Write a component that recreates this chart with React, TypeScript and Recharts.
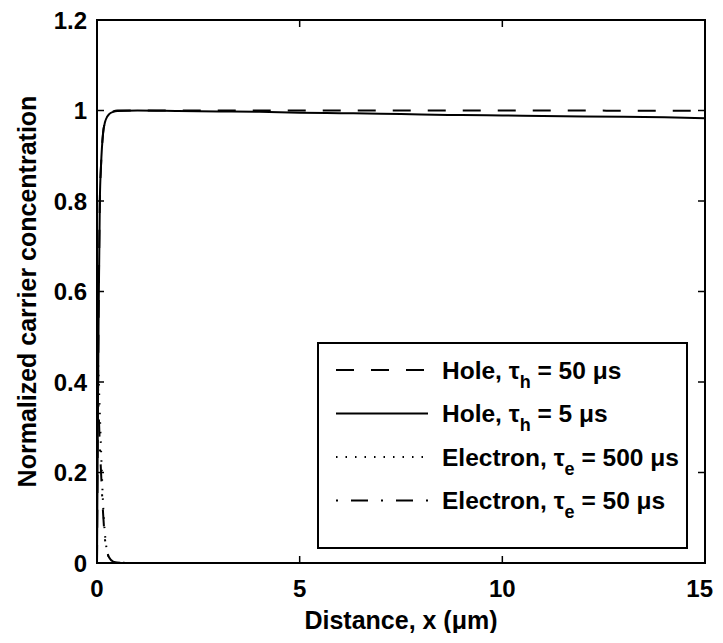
import { LineChart, Line, XAxis, YAxis, Legend, ReferenceArea, Label } from "recharts";

const distance = [0, 0.02, 0.04, 0.07, 0.1, 0.15, 0.2, 0.25, 0.3, 0.4, 0.5, 1, 2, 3, 4, 5, 6, 7, 8, 9, 10, 11, 12, 13, 14, 15];
const hole50 = [0, 0.3, 0.55, 0.8, 0.88, 0.95, 0.975, 0.987, 0.993, 0.998, 1, 1, 1, 1, 1, 1, 1, 1, 1, 1, 1, 1, 1, 0.9995, 0.9995, 0.9995];
const hole5 = [0, 0.3, 0.55, 0.8, 0.88, 0.95, 0.975, 0.986, 0.992, 0.997, 0.999, 1, 0.999, 0.998, 0.997, 0.995, 0.994, 0.993, 0.991, 0.99, 0.989, 0.988, 0.987, 0.986, 0.985, 0.983];
const electron500 = [0.5, 0.46, 0.41, 0.33, 0.25, 0.13, 0.06, 0.025, 0.01, 0.003, 0.001, 0, 0, 0, 0, 0, 0, 0, 0, 0, 0, 0, 0, 0, 0, 0];
const electron50 = [0.45, 0.4, 0.34, 0.26, 0.2, 0.11, 0.05, 0.025, 0.012, 0.003, 0.001, 0, 0, 0, 0, 0, 0, 0, 0, 0, 0, 0, 0, 0, 0, 0];

const xTicks = [0, 5, 10, 15];
const yTicks = [0, 0.2, 0.4, 0.6, 0.8, 1, 1.2];

const series = [
  { key: "hole50", carrier: "Hole", sub: "h", tau: "50", dash: "18 17" },
  { key: "hole5", carrier: "Hole", sub: "h", tau: "5", dash: undefined },
  { key: "electron500", carrier: "Electron", sub: "e", tau: "500", dash: "1.5 8" },
  { key: "electron50", carrier: "Electron", sub: "e", tau: "50", dash: "2 13 17 13" },
];

const data = distance.map((x, i) => ({
  x,
  hole50: hole50[i],
  hole5: hole5[i],
  electron500: electron500[i],
  electron50: electron50[i],
}));

const FONT = "'Liberation Sans', Arial, Helvetica, sans-serif";
const W = 707;
const H = 625;
const PLOT_LEFT = 89;
const PLOT_RIGHT = 697;
const PLOT_TOP = 12;
const PLOT_BOTTOM = 555;

const XTick = (props: any) => {
  const { x, payload } = props;
  // the last label would spill past the page edge, so pin its right side instead
  const last = payload.value === xTicks[xTicks.length - 1];
  return (
    <g>
      <line x1={x} x2={x} y1={PLOT_BOTTOM} y2={PLOT_BOTTOM - 7} stroke="#000" strokeWidth={1.5} />
      <line x1={x} x2={x} y1={PLOT_TOP} y2={PLOT_TOP + 7} stroke="#000" strokeWidth={1.5} />
      <text
        x={last ? x + 8 : x}
        y={PLOT_BOTTOM + 34}
        textAnchor={last ? "end" : "middle"}
        fontSize={24}
        fontWeight="bold"
        fontFamily={FONT}
        fill="#000"
      >
        {String(payload.value)}
      </text>
    </g>
  );
};

const YTick = (props: any) => {
  const { y, payload } = props;
  return (
    <g>
      <line x1={PLOT_LEFT} x2={PLOT_LEFT + 7} y1={y} y2={y} stroke="#000" strokeWidth={1.5} />
      <line x1={PLOT_RIGHT} x2={PLOT_RIGHT - 7} y1={y} y2={y} stroke="#000" strokeWidth={1.5} />
      <text x={PLOT_LEFT - 10} y={y} dy="0.36em" textAnchor="end" fontSize={24} fontWeight="bold" fontFamily={FONT} fill="#000">
        {String(payload.value)}
      </text>
    </g>
  );
};

const LegendBox = () => (
  <svg width={371} height={207} style={{ display: "block" }}>
    <rect x={1} y={1} width={369} height={205} fill="#fff" stroke="#000" strokeWidth={2} />
    {series.map((s, i) => {
      const cy = 28 + i * 43.5;
      return (
        <g key={s.key}>
          <line x1={19} x2={111} y1={cy} y2={cy} stroke="#000" strokeWidth={2} strokeDasharray={s.dash} />
          <text x={125} y={cy} dy="0.36em" fontSize={24.5} fontWeight="bold" fontFamily={FONT} fill="#000">
            {s.carrier}, τ
            <tspan fontSize={18} dy={9}>{s.sub}</tspan>
            <tspan dy={-9}>{` = ${s.tau} μs`}</tspan>
          </text>
        </g>
      );
    })}
  </svg>
);

export default function App() {
  return (
    <LineChart
      width={W}
      height={H}
      data={data}
      margin={{ top: PLOT_TOP, right: W - PLOT_RIGHT, bottom: H - PLOT_BOTTOM - 40, left: PLOT_LEFT - 70 }}
      style={{ background: "#fff" }}
    >
      <XAxis
        dataKey="x"
        type="number"
        domain={[0, 15]}
        ticks={xTicks}
        tick={<XTick />}
        tickLine={false}
        axisLine={false}
        height={40}
        interval={0}
      >
        <Label
          content={() => (
            <text x={(PLOT_LEFT + PLOT_RIGHT) / 2} y={621} textAnchor="middle" fontSize={25} fontWeight="bold" fontFamily={FONT} fill="#000">
              Distance, x (μm)
            </text>
          )}
        />
      </XAxis>
      <YAxis
        type="number"
        domain={[0, 1.2]}
        ticks={yTicks}
        tick={<YTick />}
        tickLine={false}
        axisLine={false}
        width={70}
        interval={0}
      >
        <Label
          content={() => (
            <text
              x={19}
              y={(PLOT_TOP + PLOT_BOTTOM) / 2}
              transform={`rotate(-90 19 ${(PLOT_TOP + PLOT_BOTTOM) / 2})`}
              textAnchor="middle"
              dy="0.36em"
              fontSize={25}
              fontWeight="bold"
              fontFamily={FONT}
              fill="#000"
            >
              Normalized carrier concentration
            </text>
          )}
        />
      </YAxis>
      <ReferenceArea x1={0} x2={15} y1={0} y2={1.2} fill="none" stroke="#000" strokeWidth={2} />
      {series.map((s) => (
        <Line
          key={s.key}
          dataKey={s.key}
          type="monotone"
          stroke="#000"
          strokeWidth={2}
          strokeDasharray={s.dash}
          dot={false}
          isAnimationActive={false}
        />
      ))}
      <Legend
        layout="vertical"
        align="center"
        verticalAlign="middle"
        content={() => <LegendBox />}
        wrapperStyle={{ position: "absolute", left: 309, top: 334, width: 371, height: 207 }}
      />
    </LineChart>
  );
}
